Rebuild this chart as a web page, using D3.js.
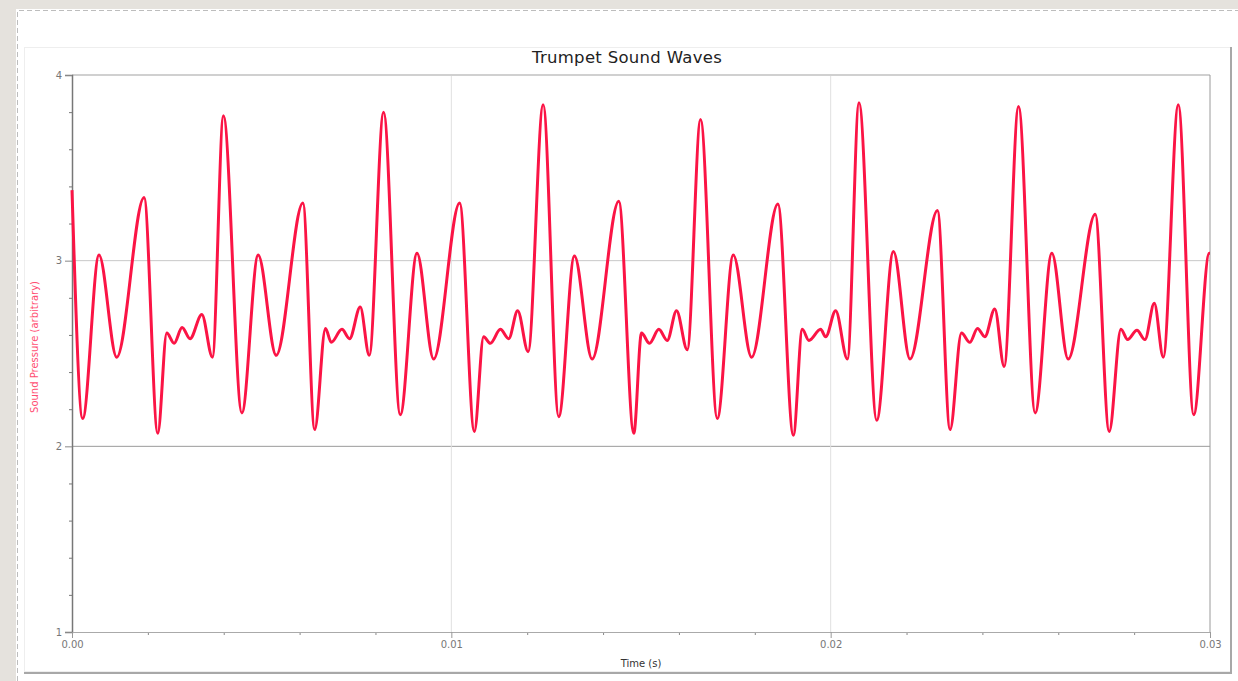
<!DOCTYPE html>
<html lang="en">
<head>
    <meta charset="UTF-8">
    <title>Trumpet Sound Waves</title>
    <script src="https://cdn.jsdelivr.net/npm/d3@7/dist/d3.min.js"></script>
    <style>
        body { margin: 0; background: #e5e2dd; }
        svg { display: block; }
    </style>
</head>
<body>
    <div id="chart"></div>
    <script>
        var width = 1238, height = 681,
            margin = {top: 75, right: 28, bottom: 49, left: 72};

        // data: time in ms, pressure in arbitrary units
        var timeMs = [0.000, 0.282, 0.712, 1.179, 1.900, 2.261, 2.499, 2.691, 2.902, 3.113,
                      3.422, 3.702, 3.992, 4.478, 4.908, 5.383, 6.087, 6.398, 6.683, 6.834,
                      7.116, 7.317, 7.599, 7.836, 8.214, 8.654, 9.095, 9.533, 10.219, 10.607,
                      10.852, 11.029, 11.293, 11.512, 11.749, 12.024, 12.420, 12.831, 13.245, 13.712,
                      14.414, 14.810, 15.013, 15.224, 15.470, 15.691, 15.937, 16.219, 16.570, 17.011,
                      17.433, 17.916, 18.609, 19.016, 19.253, 19.427, 19.736, 19.868, 20.132, 20.441,
                      20.747, 21.214, 21.654, 22.092, 22.815, 23.148, 23.449, 23.668, 23.871, 24.063,
                      24.327, 24.573, 24.953, 25.391, 25.831, 26.261, 26.974, 27.343, 27.652, 27.828,
                      28.074, 28.285, 28.531, 28.768, 29.164, 29.570, 29.982, 30.000];
        var pressure = [3.38, 2.15, 3.03, 2.48, 3.34, 2.07, 2.61, 2.555, 2.64, 2.58,
                        2.71, 2.48, 3.78, 2.18, 3.03, 2.49, 3.31, 2.09, 2.635, 2.56,
                        2.63, 2.58, 2.75, 2.49, 3.80, 2.17, 3.04, 2.47, 3.31, 2.08,
                        2.59, 2.555, 2.63, 2.58, 2.73, 2.51, 3.84, 2.16, 3.025, 2.47,
                        3.32, 2.07, 2.61, 2.555, 2.63, 2.57, 2.73, 2.52, 3.76, 2.15,
                        3.03, 2.48, 3.305, 2.06, 2.63, 2.57, 2.63, 2.59, 2.73, 2.47,
                        3.85, 2.14, 3.05, 2.47, 3.27, 2.09, 2.61, 2.56, 2.635, 2.59,
                        2.74, 2.43, 3.83, 2.18, 3.04, 2.47, 3.25, 2.08, 2.63, 2.575,
                        2.625, 2.575, 2.77, 2.48, 3.84, 2.17, 3.04, 3.04];
        var xTicks = [0, 0.01, 0.02, 0.03];
        var yTicks = [1, 2, 3, 4];

        var svg = d3.select("#chart")
                    .append("svg")
                    .attr("width", width)
                    .attr("height", height);

        // 外框
        svg.append("rect").attr("x", 16).attr("y", 9)
            .attr("width", width - 16).attr("height", height - 9).attr("fill", "#fff");
        svg.append("path")
            .attr("d", "M17.5," + height + "V10.5H" + width)
            .attr("fill", "none").attr("stroke", "#bdbdbd").attr("stroke-dasharray", "5,3");
        svg.append("rect").attr("x", 24.5).attr("y", 47.5)
            .attr("width", 1206).attr("height", 624)
            .attr("fill", "#fff").attr("stroke", "#eeeeee");
        svg.append("path")
            .attr("d", "M1231," + 47 + "V673H24")
            .attr("fill", "none").attr("stroke", "#a8a8a8").attr("stroke-width", 2);

        var x = d3.scaleLinear()
                .domain([0, 0.03])
                .range([margin.left, width - margin.right]);
        var y = d3.scaleLinear()
                .domain([1, 4])
                .range([height - margin.bottom, margin.top]);

        // 网格
        svg.selectAll(".hgrid").data([2, 3]).enter().append("line")
            .attr("x1", x(0)).attr("x2", x(0.03))
            .attr("y1", function(d){ return y(d); }).attr("y2", function(d){ return y(d); })
            .attr("stroke", function(d){ return d === 2 ? "#9a9a9a" : "#c8c8c8"; });
        svg.selectAll(".vgrid").data([0.01, 0.02]).enter().append("line")
            .attr("x1", function(d){ return x(d); }).attr("x2", function(d){ return x(d); })
            .attr("y1", y(4)).attr("y2", y(1))
            .attr("stroke", "#e0e0e0");
        svg.append("line")
            .attr("x1", x(0)).attr("x2", x(0.03)).attr("y1", y(4)).attr("y2", y(4))
            .attr("stroke", "#d0d0d0").attr("stroke-width", 2);
        svg.append("line")
            .attr("x1", x(0.03)).attr("x2", x(0.03)).attr("y1", y(4)).attr("y2", y(1))
            .attr("stroke", "#9a9a9a");

        // Y轴
        var yMinor = d3.range(1, 4.001, 0.2).filter(function(d){ return Math.abs(d - Math.round(d)) > 0.01; });
        svg.append("g")
            .attr("transform", "translate(" + margin.left + ",0)")
            .call(d3.axisLeft(y).tickValues(yMinor).tickSize(3).tickFormat(""))
            .call(function(g){ g.select(".domain").remove(); g.selectAll("line").attr("stroke", "#777"); });
        svg.append("g")
            .attr("transform", "translate(" + margin.left + ",0)")
            .call(d3.axisLeft(y).tickValues(yTicks).tickSize(7).tickPadding(3).tickFormat(d3.format("d")))
            .call(function(g){
                g.select(".domain").attr("stroke", "#777").attr("stroke-width", 1.5);
                g.selectAll("line").attr("stroke", "#888");
                g.selectAll("text").attr("fill", "#777").style("font", "10px 'DejaVu Sans'");
            });

        // X轴
        var xMinor = d3.range(0, 0.0301, 0.002).filter(function(d){ return Math.abs(d * 100 - Math.round(d * 100)) > 0.01; });
        svg.append("g")
            .attr("transform", "translate(0," + y(1) + ")")
            .call(d3.axisBottom(x).tickValues(xMinor).tickSize(3).tickFormat(""))
            .call(function(g){ g.select(".domain").remove(); g.selectAll("line").attr("stroke", "#888"); });
        svg.append("g")
            .attr("transform", "translate(0," + y(1) + ")")
            .call(d3.axisBottom(x).tickValues(xTicks).tickSize(6).tickPadding(3).tickFormat(d3.format(".2f")))
            .call(function(g){
                g.select(".domain").attr("stroke", "#aaa");
                g.selectAll("line").attr("stroke", "#999");
                g.selectAll("text").attr("fill", "#777").style("font", "10px 'DejaVu Sans'");
            });

        // 标题与轴标签
        svg.append("text")
            .attr("x", 627).attr("y", 63)
            .attr("text-anchor", "middle")
            .style("font", "16.5px 'DejaVu Sans'").style("letter-spacing", "0.3px").attr("fill", "#222")
            .text("Trumpet Sound Waves");
        svg.append("text")
            .attr("x", 641).attr("y", 667)
            .attr("text-anchor", "middle")
            .style("font", "10px 'DejaVu Sans'").attr("fill", "#333")
            .text("Time (s)");
        svg.append("text")
            .attr("transform", "translate(38,347) rotate(-90)")
            .attr("text-anchor", "middle")
            .style("font", "10px 'DejaVu Sans'").attr("fill", "#ff4d72")
            .text("Sound Pressure (arbitrary)");

        // 波形
        var wave = d3.line()
                    .x(function(d, i){ return x(timeMs[i] / 1000); })
                    .y(function(d){ return y(d); })
                    .curve(d3.curveMonotoneX);
        svg.append("path")
            .attr("d", wave(pressure))
            .attr("fill", "none")
            .attr("stroke", "#fb1445")
            .attr("stroke-width", 3)
            .attr("stroke-linejoin", "round");
    </script>
</body>
</html>
